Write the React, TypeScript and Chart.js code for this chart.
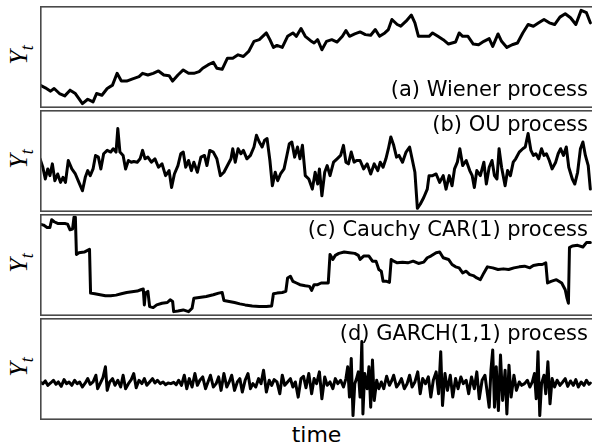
import React, { useEffect, useRef } from "react";
import { Chart, registerables } from "chart.js";

Chart.register(...registerables);

// [time, value] pairs
const wiener: [number, number][] = [
  [0, 68], [15, 60], [30, 50], [40, 58], [55, 43], [70, 36], [85, 53], [100, 43], [120, 13], [135, 26],
  [150, 18], [160, 43], [175, 38], [190, 58], [205, 68], [218, 103], [230, 80], [245, 80], [260, 86], [280, 93],
  [290, 103], [305, 98], [320, 103], [335, 110], [350, 98], [365, 96], [375, 80], [390, 98], [405, 113], [420, 103],
  [435, 103], [450, 108], [460, 118], [475, 128], [490, 136], [500, 118], [515, 115], [530, 148], [545, 148], [560, 158],
  [575, 153], [590, 168], [605, 198], [620, 203], [640, 223], [650, 203], [660, 180], [670, 186], [685, 180], [700, 213],
  [715, 223], [725, 213], [738, 236], [750, 213], [765, 200], [775, 193], [785, 203], [797, 173], [810, 198], [825, 203],
  [840, 196], [855, 213], [865, 230], [875, 213], [890, 220], [905, 226], [920, 218], [935, 216], [948, 233], [960, 213],
  [975, 223], [985, 233], [995, 263], [1010, 248], [1020, 243], [1035, 258], [1050, 276], [1060, 253], [1070, 213], [1085, 213],
  [1100, 213], [1110, 223], [1125, 213], [1140, 203], [1155, 190], [1165, 193], [1175, 196], [1185, 223], [1195, 213], [1210, 213],
  [1225, 190], [1240, 188], [1255, 198], [1270, 206], [1280, 183], [1295, 220], [1305, 198], [1320, 180], [1335, 188], [1350, 193],
  [1365, 223], [1380, 248], [1395, 243], [1410, 253], [1425, 263], [1440, 253], [1455, 248], [1470, 270], [1485, 280], [1500, 268],
  [1515, 248], [1530, 290], [1545, 283], [1556, 253],
];

const ou: [number, number][] = [
  [0, 158], [8, 133], [15, 98], [22, 128], [28, 108], [35, 143], [42, 93], [50, 113], [58, 88], [65, 103],
  [72, 88], [80, 153], [90, 128], [100, 113], [110, 88], [120, 63], [128, 103], [135, 123], [142, 108], [150, 128],
  [157, 168], [165, 163], [172, 128], [180, 173], [190, 183], [200, 178], [207, 188], [215, 178], [220, 248], [226, 178],
  [235, 168], [242, 128], [250, 153], [258, 148], [265, 150], [275, 148], [283, 158], [290, 183], [297, 158], [305, 163],
  [315, 148], [325, 158], [335, 133], [345, 143], [355, 108], [365, 123], [372, 73], [380, 113], [390, 138], [398, 173],
  [405, 178], [412, 133], [420, 153], [428, 123], [435, 148], [445, 118], [455, 163], [465, 168], [472, 138], [480, 183],
  [490, 178], [500, 158], [510, 108], [520, 118], [530, 138], [540, 158], [545, 188], [552, 148], [560, 188], [568, 173],
  [575, 183], [585, 158], [595, 168], [605, 193], [612, 228], [620, 208], [628, 193], [635, 213], [642, 218], [650, 153],
  [657, 78], [665, 118], [672, 93], [680, 113], [690, 128], [698, 168], [705, 203], [712, 208], [720, 163], [728, 193],
  [735, 158], [742, 198], [750, 108], [760, 98], [770, 68], [778, 118], [785, 83], [790, 128], [797, 48], [805, 118],
  [812, 138], [820, 108], [830, 148], [840, 158], [850, 168], [858, 198], [865, 148], [872, 143], [880, 178], [888, 148],
  [895, 153], [905, 153], [915, 128], [925, 143], [935, 113], [945, 143], [955, 123], [962, 148], [970, 133], [978, 158],
  [985, 188], [992, 223], [1000, 198], [1008, 163], [1015, 168], [1025, 148], [1035, 178], [1045, 193], [1052, 158], [1060, 118],
  [1067, 11], [1075, 23], [1085, 43], [1095, 68], [1100, 108], [1110, 108], [1120, 113], [1130, 88], [1140, 108], [1148, 68],
  [1157, 108], [1165, 78], [1172, 128], [1180, 148], [1187, 188], [1195, 138], [1205, 153], [1215, 123], [1222, 108], [1228, 73],
  [1235, 123], [1245, 108], [1255, 148], [1262, 83], [1270, 133], [1278, 153], [1285, 108], [1292, 98], [1298, 188], [1305, 133],
  [1315, 78], [1322, 123], [1330, 108], [1338, 148], [1345, 158], [1355, 178], [1365, 188], [1372, 193], [1380, 233], [1388, 183],
  [1395, 168], [1402, 173], [1410, 158], [1418, 188], [1425, 168], [1432, 173], [1440, 153], [1448, 128], [1458, 148], [1465, 173],
  [1472, 188], [1480, 168], [1488, 193], [1495, 133], [1505, 98], [1512, 83], [1520, 118], [1528, 188], [1535, 208], [1542, 168],
  [1550, 138], [1556, 68],
];

const cauchy: [number, number][] = [
  [0, 273], [10, 270], [20, 263], [28, 263], [33, 286], [40, 280], [50, 275], [60, 275], [70, 275], [78, 273],
  [85, 256], [92, 258], [96, 293], [100, 293], [103, 183], [110, 188], [125, 190], [140, 198], [143, 68], [155, 66],
  [170, 63], [185, 60], [200, 60], [215, 62], [230, 66], [245, 70], [260, 72], [275, 74], [285, 78], [292, 80],
  [295, 33], [298, 68], [305, 73], [310, 28], [320, 25], [330, 33], [345, 38], [360, 40], [368, 48], [375, 43],
  [378, 13], [390, 15], [405, 18], [420, 13], [430, 23], [435, 53], [450, 55], [470, 58], [490, 63], [505, 68],
  [515, 70], [520, 46], [535, 43], [550, 40], [565, 36], [580, 33], [600, 30], [620, 28], [640, 28], [655, 30],
  [660, 66], [670, 68], [685, 70], [695, 73], [700, 113], [708, 118], [715, 103], [725, 98], [735, 93], [750, 90],
  [762, 88], [768, 76], [775, 93], [785, 93], [795, 98], [805, 98], [815, 98], [820, 183], [828, 168], [835, 180],
  [845, 186], [860, 190], [875, 188], [890, 186], [900, 180], [905, 168], [915, 178], [930, 178], [940, 163], [950, 163],
  [958, 138], [965, 133], [970, 103], [980, 103], [988, 100], [993, 168], [1000, 163], [1010, 158], [1025, 160], [1040, 158],
  [1055, 163], [1070, 156], [1085, 160], [1095, 173], [1105, 178], [1120, 188], [1130, 190], [1140, 173], [1155, 168], [1165, 153],
  [1175, 146], [1185, 143], [1195, 128], [1205, 133], [1215, 123], [1225, 120], [1235, 113], [1245, 108], [1255, 128], [1265, 146],
  [1280, 143], [1295, 138], [1310, 140], [1325, 138], [1340, 143], [1355, 146], [1370, 148], [1385, 143], [1395, 150], [1410, 153],
  [1420, 153], [1430, 158], [1435, 98], [1445, 103], [1460, 108], [1475, 98], [1485, 78], [1490, 53], [1494, 38], [1497, 203],
  [1505, 208], [1520, 210], [1535, 205], [1545, 218], [1556, 218],
];

const garch: [number, number][] = [
  [0, 113], [8, 108], [15, 116], [22, 103], [30, 110], [38, 118], [45, 106], [52, 113], [60, 100], [68, 120],
  [75, 108], [82, 113], [90, 103], [98, 118], [105, 108], [112, 113], [120, 98], [128, 110], [135, 123], [142, 106],
  [150, 113], [158, 133], [163, 93], [170, 108], [178, 126], [185, 158], [190, 88], [197, 113], [205, 123], [212, 103],
  [220, 118], [228, 98], [235, 133], [242, 93], [250, 108], [258, 120], [265, 138], [272, 96], [280, 118], [288, 108],
  [295, 123], [302, 103], [310, 113], [318, 123], [325, 110], [332, 118], [340, 108], [348, 113], [355, 105], [362, 110],
  [370, 108], [378, 112], [385, 105], [392, 118], [400, 103], [408, 133], [415, 93], [422, 123], [430, 98], [438, 138],
  [445, 103], [452, 118], [460, 128], [468, 93], [475, 113], [482, 133], [490, 98], [498, 108], [505, 128], [512, 88],
  [520, 138], [528, 98], [535, 113], [542, 133], [550, 88], [558, 113], [565, 123], [572, 83], [580, 118], [588, 138],
  [595, 93], [602, 108], [610, 98], [618, 123], [625, 108], [632, 148], [640, 83], [648, 118], [655, 103], [662, 120],
  [670, 113], [678, 78], [685, 133], [692, 103], [700, 113], [708, 123], [715, 98], [722, 113], [730, 68], [738, 123],
  [745, 130], [752, 96], [760, 138], [768, 78], [775, 123], [782, 108], [790, 143], [797, 63], [805, 128], [812, 103],
  [820, 113], [828, 93], [835, 123], [842, 108], [850, 118], [858, 98], [865, 123], [870, 158], [875, 68], [880, 183],
  [885, 13], [890, 108], [895, 123], [900, 143], [905, 68], [910, 233], [913, 18], [918, 138], [925, 93], [930, 158],
  [935, 38], [940, 178], [945, 58], [952, 118], [958, 93], [965, 113], [972, 93], [980, 130], [988, 103], [995, 118],
  [1000, 133], [1008, 98], [1015, 108], [1022, 123], [1030, 93], [1038, 108], [1045, 133], [1052, 98], [1060, 113], [1068, 143],
  [1075, 78], [1082, 123], [1090, 108], [1098, 128], [1105, 68], [1112, 118], [1120, 143], [1127, 78], [1133, 203], [1138, 43],
  [1145, 138], [1152, 88], [1160, 133], [1167, 68], [1175, 123], [1182, 93], [1190, 128], [1197, 108], [1205, 118], [1212, 78],
  [1220, 128], [1228, 93], [1235, 143], [1242, 63], [1250, 118], [1258, 133], [1265, 78], [1270, 38], [1275, 148], [1280, 208],
  [1285, 38], [1290, 158], [1296, 28], [1302, 193], [1308, 58], [1315, 148], [1320, 18], [1326, 163], [1332, 68], [1340, 133],
  [1347, 88], [1355, 113], [1362, 103], [1370, 108], [1378, 118], [1385, 98], [1392, 113], [1398, 138], [1403, 63], [1408, 203],
  [1413, 13], [1418, 108], [1425, 133], [1430, 78], [1436, 173], [1442, 48], [1448, 123], [1455, 98], [1462, 118], [1470, 103],
  [1478, 113], [1485, 123], [1492, 100], [1500, 116], [1508, 103], [1515, 120], [1522, 98], [1530, 113], [1538, 103], [1545, 118],
  [1552, 106], [1556, 110],
];

const panelLabels = ["(a) Wiener process", "(b) OU process", "(c) Cauchy CAR(1) process", "(d) GARCH(1,1) process"];
const series = [wiener, ou, cauchy, garch];
const xLabel = "time";

const PANEL_TOPS = [6, 110, 214, 318];
const PANEL_H = 102;
const PANEL_LEFT = 40;
const PANEL_W = 556;
const LABEL_BASELINES = [96.7, 131.5, 236.5, 340.5];

const framePlugin = {
  id: "frame",
  afterDraw(chart: any) {
    const { ctx, chartArea } = chart;
    const { left, top, right, bottom } = chartArea;
    ctx.save();
    ctx.strokeStyle = "#4a4a4a";
    ctx.lineWidth = 1.6;
    ctx.strokeRect(left + 0.8, top + 0.8, right - left - 1.6, bottom - top - 1.6);
    ctx.restore();
  },
};

function Panel({ data }: { data: [number, number][] }) {
  const ref = useRef<HTMLCanvasElement | null>(null);
  useEffect(() => {
    if (!ref.current) return;
    const chart = new Chart(ref.current, {
      type: "line",
      data: {
        datasets: [
          {
            data: data.map(([x, y]) => ({ x, y })),
            borderColor: "#000",
            borderWidth: 3,
            pointRadius: 0,
            tension: 0,
            fill: false,
            borderJoinStyle: "round",
            borderCapStyle: "round",
          },
        ],
      },
      options: {
        animation: false,
        responsive: false,
        events: [],
        layout: { padding: 0 },
        plugins: { legend: { display: false }, tooltip: { enabled: false } },
        scales: {
          x: { type: "linear", min: 0, max: 1572, display: false },
          y: { type: "linear", min: 0, max: 303, display: false },
        },
      },
      plugins: [framePlugin],
    } as any);
    return () => chart.destroy();
  }, [data]);
  return <canvas ref={ref} width={PANEL_W} height={PANEL_H} style={{ width: PANEL_W, height: PANEL_H, display: "block" }} />;
}

export default function App() {
  return (
    <div
      style={{
        position: "absolute",
        left: 0,
        top: 0,
        width: 592,
        height: 445,
        overflow: "hidden",
        background: "#fff",
      }}
    >
      {series.map((d, i) => (
        <div key={i} style={{ position: "absolute", left: PANEL_LEFT, top: PANEL_TOPS[i] }}>
          <Panel data={d} />
        </div>
      ))}
      {panelLabels.map((t, i) => (
        <div
          key={"l" + i}
          style={{
            position: "absolute",
            right: 4,
            top: LABEL_BASELINES[i] - 0.928 * 21,
            fontFamily: "'DejaVu Sans'",
            fontSize: 21,
            lineHeight: "normal",
            color: "#000",
            whiteSpace: "nowrap",
          }}
        >
          {t}
        </div>
      ))}
      {PANEL_TOPS.map((t, i) => (
        <div
          key={"y" + i}
          style={{
            position: "absolute",
            left: 21 - 40,
            top: t + PANEL_H / 2 - 17,
            width: 80,
            height: 30,
            display: "flex",
            alignItems: "center",
            justifyContent: "center",
            transform: "rotate(-90deg)",
            fontFamily: "'Liberation Serif'",
            fontStyle: "italic",
            fontSize: 26,
            color: "#000",
            whiteSpace: "nowrap",
          }}
        >
          <span>
            Y<sub style={{ fontSize: "0.7em" }}>t</sub>
          </span>
        </div>
      ))}
      <div
        style={{
          position: "absolute",
          left: 0,
          width: 633,
          textAlign: "center",
          top: 442 - 0.928 * 22,
          fontFamily: "'DejaVu Sans'",
          fontSize: 22,
          lineHeight: "normal",
          color: "#000",
        }}
      >
        {xLabel}
      </div>
    </div>
  );
}
